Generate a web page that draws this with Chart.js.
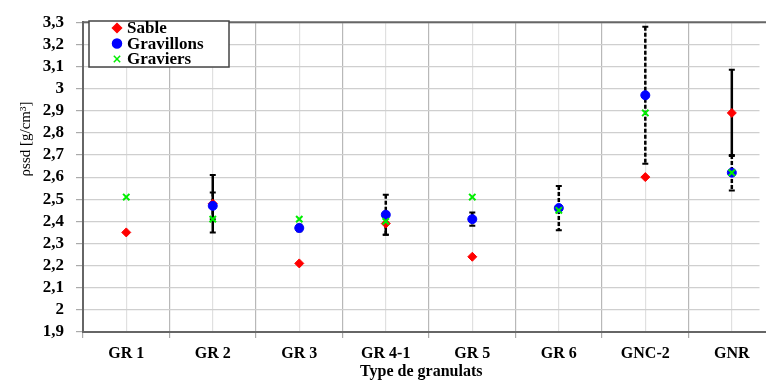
<!DOCTYPE html>
<html>
<head>
<meta charset="utf-8">
<script src="https://cdn.jsdelivr.net/npm/chart.js@4/dist/chart.umd.min.js"></script>
<style>
  html, body { margin: 0; padding: 0; background: #fff; overflow: hidden; }
  #chart { display: block; }
</style>
</head>
<body>
<canvas id="chart" width="766" height="383"></canvas>
<script>
// Data
const categories = ['GR 1', 'GR 2', 'GR 3', 'GR 4-1', 'GR 5', 'GR 6', 'GNC-2', 'GNR'];
const sable = [2.35, 2.48, 2.21, 2.39, 2.24, null, 2.60, 2.89];
const sableErr = [null, 0.13, null, 0.05, null, null, null, 0.195];
const gravillons = [null, 2.47, 2.37, 2.43, 2.41, 2.46, 2.97, 2.62];
const gravillonsErr = [null, 0.06, 0.015, 0.09, 0.03, 0.10, 0.31, 0.08];
const graviers = [2.51, 2.41, 2.41, 2.40, 2.51, 2.45, 2.89, 2.62];
const yMin = 1.9;
const yMax = 3.3;

const serif = "'Liberation Serif', 'Times New Roman', serif";

// Build scatter points from the arrays (x = category position 1..n)
function toPoints(values) {
    return values
        .map((v, i) => (v === null ? null : { x: i + 1, y: v }))
        .filter(p => p !== null);
}

// Error bars drawn through the chart scales
const errorBarPlugin = {
    id: 'errorBars',
    beforeDatasetsDraw(chart) {
        const { ctx, scales: { x, y } } = chart;
        ctx.save();
        chart.data.datasets.forEach(ds => {
            if (!ds.errors) return;
            ds.errorValues.forEach((v, i) => {
                const e = ds.errors[i];
                if (v === null || e === null || e === undefined) return;
                const px = x.getPixelForValue(i + 1);
                const top = y.getPixelForValue(v + e);
                const bottom = y.getPixelForValue(v - e);
                ctx.strokeStyle = '#000';
                ctx.lineWidth = 2.5;
                ctx.setLineDash(ds.errorDash || []);
                ctx.beginPath();
                ctx.moveTo(px, top);
                ctx.lineTo(px, bottom);
                ctx.stroke();
                ctx.setLineDash([]);
                ctx.lineWidth = 2;
                ctx.beginPath();
                ctx.moveTo(px - 3, top);
                ctx.lineTo(px + 3, top);
                ctx.moveTo(px - 3, bottom);
                ctx.lineTo(px + 3, bottom);
                ctx.stroke();
            });
        });
        ctx.restore();
    }
};

// Frame lines, y title and the boxed legend inside the plot
const decorPlugin = {
    id: 'decor',
    afterDraw(chart) {
        const { ctx, chartArea } = chart;
        ctx.save();

        // top and bottom border run to the right edge (plot is cut there)
        ctx.strokeStyle = '#666';
        ctx.lineWidth = 2;
        ctx.beginPath();
        ctx.moveTo(chartArea.left, chartArea.top);
        ctx.lineTo(chart.width, chartArea.top);
        ctx.moveTo(chartArea.right - 1, chartArea.bottom);
        ctx.lineTo(chart.width, chartArea.bottom);
        ctx.stroke();

        // y axis title
        ctx.save();
        ctx.translate(26, 139);
        ctx.rotate(-Math.PI / 2);
        ctx.fillStyle = '#000';
        ctx.font = '15px ' + serif;
        ctx.textAlign = 'center';
        ctx.textBaseline = 'middle';
        ctx.fillText('\u03C1ssd [g/cm\u00B3]', 0, 0);
        ctx.restore();

        // legend box
        const bx = 89, by = 21, bw = 140, bh = 46;
        ctx.fillStyle = '#fff';
        ctx.fillRect(bx, by, bw, bh);
        ctx.strokeStyle = '#444';
        ctx.lineWidth = 1.5;
        ctx.strokeRect(bx, by, bw, bh);

        ctx.font = 'bold 17px ' + serif;
        ctx.textBaseline = 'middle';
        ctx.textAlign = 'left';
        chart.data.datasets.forEach((ds, i) => {
            const ly = 28 + i * 15.5;
            ctx.fillStyle = ds.backgroundColor;
            ctx.strokeStyle = ds.borderColor;
            Chart.helpers.drawPoint(ctx, {
                pointStyle: ds.pointStyle,
                radius: ds.pointRadius,
                rotation: 0,
                borderWidth: ds.borderWidth
            }, 117, ly);
            ctx.fillStyle = '#000';
            ctx.fillText(ds.label, 127, ly + 1);
        });

        ctx.restore();
    }
};

const chart = new Chart(document.getElementById('chart').getContext('2d'), {
    type: 'scatter',
    data: {
        datasets: [
            {
                label: 'Sable',
                data: toPoints(sable),
                errorValues: sable,
                errors: sableErr,
                errorDash: [],
                pointStyle: 'rectRot',
                pointRadius: 4.5,
                backgroundColor: '#ff0000',
                borderColor: '#ff0000',
                borderWidth: 1,
                order: 2
            },
            {
                label: 'Gravillons',
                data: toPoints(gravillons),
                errorValues: gravillons,
                errors: gravillonsErr,
                errorDash: [4, 2],
                pointStyle: 'circle',
                pointRadius: 4.5,
                backgroundColor: '#0000ff',
                borderColor: '#0000ff',
                borderWidth: 1,
                order: 1
            },
            {
                label: 'Graviers',
                data: toPoints(graviers),
                pointStyle: 'crossRot',
                pointRadius: 4.5,
                backgroundColor: '#00ee00',
                borderColor: '#00ee00',
                borderWidth: 2,
                order: 0
            }
        ]
    },
    options: {
        responsive: false,
        animation: false,
        layout: { padding: { top: 17, left: 0, right: 0, bottom: 0 } },
        plugins: {
            legend: { display: false },
            tooltip: { enabled: false }
        },
        scales: {
            x: {
                type: 'linear',
                min: 0.5,
                max: 8.32,
                ticks: {
                    stepSize: 0.5,
                    includeBounds: false,
                    autoSkip: false,
                    maxRotation: 0,
                    padding: 6,
                    color: '#000',
                    font: { family: serif, size: 16, weight: 'bold' },
                    callback: v => (Number.isInteger(v) ? categories[v - 1] : '')
                },
                grid: {
                    color: c => (Number.isInteger(c.tick.value) ? '#e0e0e0' : '#b8b8b8'),
                    tickColor: c => (Number.isInteger(c.tick.value) ? 'rgba(0,0,0,0)' : '#aaa'),
                    tickLength: 6,
                    lineWidth: 1.2
                },
                border: { color: '#666', width: 2 },
                title: {
                    display: true,
                    text: 'Type de granulats',
                    color: '#000',
                    font: { family: serif, size: 16, weight: 'bold' },
                    padding: { top: 0, bottom: 2 }
                },
                afterFit: scale => { scale.height = 51; }
            },
            y: {
                min: yMin,
                max: yMax,
                ticks: {
                    stepSize: 0.1,
                    autoSkip: false,
                    padding: 12,
                    color: '#000',
                    font: { family: serif, size: 17, weight: 'bold' },
                    callback: v => (Math.round(v * 10) / 10).toString().replace('.', ',')
                },
                grid: {
                    color: '#cfcfcf',
                    tickColor: '#aaa',
                    tickLength: 7,
                    lineWidth: 1.2
                },
                border: { color: '#666', width: 2 },
                afterFit: scale => { scale.width = 83; }
            }
        }
    },
    plugins: [errorBarPlugin, decorPlugin]
});
</script>
</body>
</html>
